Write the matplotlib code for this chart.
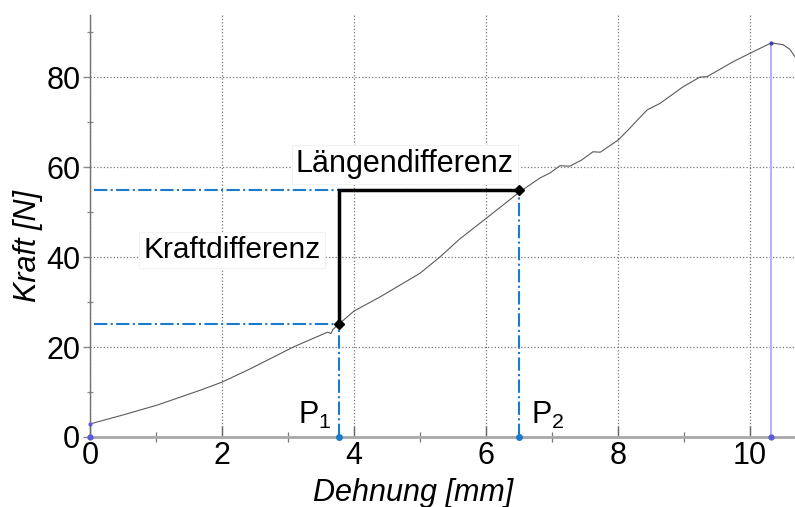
import matplotlib
matplotlib.use('Agg')
import matplotlib.pyplot as plt
from matplotlib.ticker import MultipleLocator

plt.rcParams['font.family'] = ['Liberation Sans', 'DejaVu Sans']
plt.rcParams['mathtext.default'] = 'regular'

# Kraft-Dehnungs-Kurve (Dehnung in mm, Kraft in N)
dehnung = [0, 0.5, 1.02, 1.67, 2.0, 2.42, 3.08, 3.33, 3.6, 3.65, 3.68, 3.77, 4.0,
           4.39, 5.0, 5.3, 5.6, 6.01, 6.52, 6.82, 6.97, 7.12, 7.27, 7.45, 7.62,
           7.73, 8.0, 8.15, 8.29, 8.44, 8.64, 8.98, 9.24, 9.35, 9.74, 10.0,
           10.32, 10.5, 10.6, 10.68]
kraft = [2.9, 4.9, 7.1, 10.4, 12.2, 15.1, 20.0, 21.6, 23.3, 23.0, 23.9, 25.1, 28.0,
         31.1, 36.4, 40.0, 44.0, 48.7, 54.6, 57.6, 58.7, 60.3, 60.2, 61.6, 63.4,
         63.3, 66.0, 68.2, 70.4, 72.7, 74.2, 77.8, 80.0, 80.1, 83.4, 85.3,
         87.6, 87.2, 86.2, 84.5]

# Messpunkte P1 / P2 und Maximalkraft
p_x = [3.77, 6.5]
p_y = [25.1, 54.8]
p_labels = ['P$_1$', 'P$_2$']
max_x, max_y = 10.32, 87.6

blue = '#1a7acc'

fig = plt.figure(figsize=(7.95, 5.07), dpi=100)
ax = fig.add_axes([90 / 795, 1 - 437 / 507, 1 - 90 / 795, (437 - 15) / 507])

ax.plot(dehnung, kraft, color='#5a5a5a', lw=0.8, zorder=3)

# Hilfslinien zu den Achsen
for x, y in zip(p_x, p_y):
    ax.plot([0.06, x], [y, y], color=blue, lw=1.5, ls='-.', zorder=2)
    ax.plot([x, x], [0, y], color=blue, lw=1.5, ls='-.', zorder=2)
    ax.plot(x, 0, 'o', color=blue, ms=4, zorder=5, clip_on=False)

# Kraft- und Längendifferenz
ax.plot([p_x[0], p_x[0], p_x[1]], [p_y[0], p_y[1], p_y[1]], color='black', lw=2.5,
        zorder=4, solid_joinstyle='miter')
ax.plot(p_x, p_y, 'D', color='black', ms=5, zorder=5)

# Maximalkraft
ax.plot([max_x, max_x], [0, max_y], color='#b4b4ff', lw=1.5, zorder=2)
ax.plot(max_x, 0, 'o', color='#5a5ae0', ms=3.5, zorder=5, clip_on=False)
ax.plot(max_x, max_y, 'o', color='#4040b0', ms=2, zorder=5)
ax.plot(0, 0, 'o', color='#5a5ae0', ms=3.5, zorder=5, clip_on=False)
ax.plot(0, kraft[0], 'o', color='#5a5ae0', ms=2, zorder=5, clip_on=False)

box = dict(facecolor='white', edgecolor='#f2f2f2', lw=0.8, pad=3)
ax.text(4.77, 60.6, 'Längendifferenz', fontsize=22, ha='center', va='center',
        bbox=box, zorder=3)
ax.text(2.15, 41.5, 'Kraftdifferenz', fontsize=21.5, ha='center', va='center',
        bbox=box, zorder=3)
for x, lab, dx in zip(p_x, p_labels, [-0.36, 0.44]):
    ax.text(x + dx, 4.8, lab, fontsize=22, ha='center', va='center', zorder=5)

ax.set_xlim(0, 10.68)
ax.set_ylim(0, 93.8)
ax.xaxis.set_major_locator(MultipleLocator(2))
ax.xaxis.set_minor_locator(MultipleLocator(1))
ax.yaxis.set_major_locator(MultipleLocator(20))
ax.yaxis.set_minor_locator(MultipleLocator(10))

ax.grid(True, which='major', ls=':', color='#777777', lw=0.9)
ax.set_axisbelow(True)

for s in ['top', 'right']:
    ax.spines[s].set_visible(False)
ax.spines['left'].set_color('#707070')
ax.spines['left'].set_linewidth(1.0)
ax.spines['bottom'].set_color('#a8a8a8')
ax.spines['bottom'].set_linewidth(2.0)

ax.tick_params(axis='x', which='major', direction='in', length=8, width=1,
               color='#666666', labelsize=22, pad=3)
ax.tick_params(axis='x', which='minor', direction='inout', length=7, width=0.9,
               color='#777777')
ax.tick_params(axis='y', which='major', direction='out', length=5, width=1,
               color='#888888', labelsize=22, pad=2)
ax.tick_params(axis='y', which='minor', direction='inout', length=5, width=0.9,
               color='#888888')

ax.set_xlabel('Dehnung [mm]', fontsize=22, style='italic')
ax.set_ylabel('Kraft [N]', fontsize=22, style='italic')
ax.xaxis.set_label_coords(0.458, -0.097)
ax.yaxis.set_label_coords(-0.066, 0.452)

fig.savefig('out.png', dpi=100)
